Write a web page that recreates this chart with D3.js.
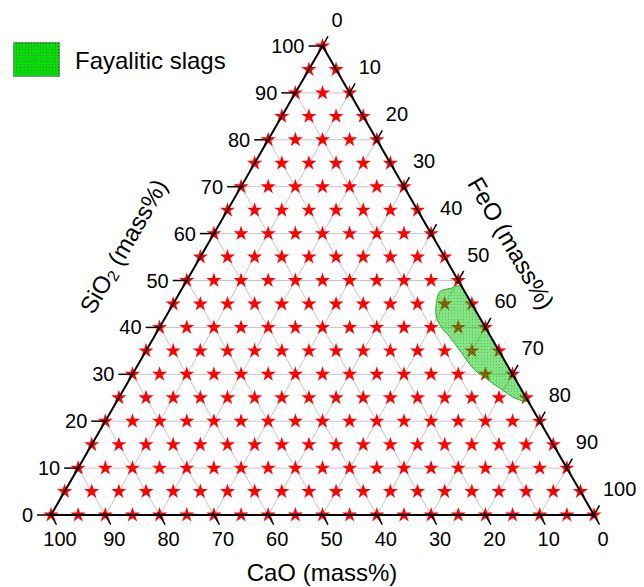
<!DOCTYPE html>
<html>
<head>
<meta charset="utf-8">
<script src="https://cdn.jsdelivr.net/npm/d3@7"></script>
<style>
  body { margin: 0; background: #fff; }
  svg { display: block; font-family: "Liberation Sans", Arial, sans-serif; }
</style>
</head>
<body>
<svg id="chart" width="644" height="587"></svg>
<script>
// tick labels on each of the three axes (mass%)
const tickValues = [0, 10, 20, 30, 40, 50, 60, 70, 80, 90, 100];
// compositions are marked every 5 mass%
const starLevels = [0, 5, 10, 15, 20, 25, 30, 35, 40, 45, 50, 55, 60, 65, 70, 75, 80, 85, 90, 95, 100];
// outline of the fayalitic slag field, [SiO2, CaO, FeO]
const slagField = [
    [48.8, 0.0, 51.2], [48.3, 2.4, 49.3], [47.6, 4.6, 47.8], [45.1, 6.5, 48.4],
    [42.3, 7.9, 49.8], [40.1, 8.1, 51.8], [38.0, 7.6, 54.4], [34.5, 7.1, 58.4],
    [30.9, 6.5, 62.6], [28.8, 5.1, 66.1], [26.7, 3.6, 69.7], [24.9, 2.1, 73.0],
    [24.2, 0.4, 75.4], [24.3, 0.0, 75.7], [30.0, 0.0, 70.0], [36.0, 0.0, 64.0],
    [42.0, 0.0, 58.0]
];
const legendLabel = "Fayalitic slags";

var svg = d3.select("#chart");

// x runs along the base (FeO + SiO2/2), y follows SiO2
var x = d3.scaleLinear().domain([0, 100]).range([51, 594]);
var y = d3.scaleLinear().domain([0, 100]).range([515, 46]);
function pt(s, c, f) {
    return [x(f + s / 2), y(s)];
}
var corners = [pt(100, 0, 0), pt(0, 100, 0), pt(0, 0, 100)];

var defs = svg.append("defs");
function dots(id, bg, fg) {
    var p = defs.append("pattern")
        .attr("id", id).attr("patternUnits", "userSpaceOnUse")
        .attr("width", 3).attr("height", 3);
    p.append("rect").attr("width", 3).attr("height", 3).attr("fill", bg);
    p.append("rect").attr("x", 1).attr("y", 1).attr("width", 1).attr("height", 1).attr("fill", fg);
}
dots("dotsLegend", "#00e000", "#006800");
dots("dotsField", "#00d000", "#005000");
defs.append("clipPath").attr("id", "tri")
    .append("path").attr("d", d3.line()(corners) + "Z");

// grid
var grid = svg.append("g").attr("stroke", "#c4c4c4").attr("stroke-width", 1);
tickValues.slice(1, -1).forEach(function(v) {
    var lines = [
        [pt(v, 100 - v, 0), pt(v, 0, 100 - v)],
        [pt(100 - v, v, 0), pt(0, v, 100 - v)],
        [pt(100 - v, 0, v), pt(0, 100 - v, v)]
    ];
    lines.forEach(function(l) {
        grid.append("line")
            .attr("x1", l[0][0]).attr("y1", l[0][1])
            .attr("x2", l[1][0]).attr("y2", l[1][1]);
    });
});

// stars
var stars = [];
starLevels.forEach(function(s) {
    starLevels.forEach(function(f) {
        if (s + f <= 100) stars.push([s, 100 - s - f, f]);
    });
});
svg.append("g").selectAll("path")
    .data(stars)
    .enter().append("path")
    .attr("transform", function(d) { var p = pt(d[0], d[1], d[2]); return "translate(" + p[0] + "," + p[1] + ")"; })
    .attr("d", d3.symbol().type(d3.symbolStar).size(72))
    .attr("fill", "#ff0000");

// slag field
var line = d3.line()
    .x(function(d) { return pt(d[0], d[1], d[2])[0]; })
    .y(function(d) { return pt(d[0], d[1], d[2])[1]; })
    .curve(d3.curveCatmullRomClosed.alpha(0.5));
svg.append("path")
    .attr("clip-path", "url(#tri)")
    .attr("d", line(slagField))
    .attr("fill", "url(#dotsField)")
    .attr("fill-opacity", 0.5)
    .attr("stroke", "#33aa33")
    .attr("stroke-width", 1);

// triangle frame
var frame = svg.append("g").attr("stroke", "#000").attr("stroke-width", 2).attr("fill", "none");
frame.append("path").attr("d", d3.line()(corners) + "Z");

var lab = svg.append("g").attr("font-size", 20).attr("fill", "#000");
var d60 = [0.5, Math.sqrt(3) / 2];
tickValues.forEach(function(v) {
    // SiO2, left edge
    var p = pt(v, 100 - v, 0);
    frame.append("line").attr("stroke-width", 1.5)
        .attr("x1", p[0] - 14).attr("y1", p[1]).attr("x2", p[0] + 2).attr("y2", p[1]);
    lab.append("text").attr("x", p[0] - 18).attr("y", p[1])
        .attr("text-anchor", "end").attr("dominant-baseline", "central").text(v);
    // FeO, right edge
    p = pt(100 - v, 0, v);
    frame.append("line").attr("stroke-width", 1.5)
        .attr("x1", p[0] - 3 * d60[0]).attr("y1", p[1] + 3 * d60[1])
        .attr("x2", p[0] + 11 * d60[0]).attr("y2", p[1] - 11 * d60[1]);
    lab.append("text").attr("x", p[0] + 9).attr("y", p[1] - 26)
        .attr("dominant-baseline", "central").text(v);
    // CaO, bottom edge
    p = pt(0, v, 100 - v);
    frame.append("line").attr("stroke-width", 1.5)
        .attr("x1", p[0] - 3 * d60[0]).attr("y1", p[1] - 3 * d60[1])
        .attr("x2", p[0] + 11 * d60[0]).attr("y2", p[1] + 11 * d60[1]);
    lab.append("text").attr("x", p[0] + 9).attr("y", p[1] + 24)
        .attr("text-anchor", "middle").attr("dominant-baseline", "central").text(v);
});

// axis titles
var t = svg.append("text").attr("font-size", 24).attr("text-anchor", "middle")
    .attr("dominant-baseline", "central")
    .attr("transform", "translate(123,246) rotate(-60)");
t.append("tspan").text("SiO");
t.append("tspan").attr("font-size", 16).attr("dy", 6).text("2");
t.append("tspan").attr("dy", -6).text(" (mass%)");

svg.append("text").attr("font-size", 24).attr("text-anchor", "middle")
    .attr("dominant-baseline", "central")
    .attr("transform", "translate(511,243) rotate(60)")
    .text("FeO (mass%)");

svg.append("text").attr("font-size", 24).attr("text-anchor", "middle")
    .attr("dominant-baseline", "central")
    .attr("x", 322).attr("y", 572)
    .text("CaO (mass%)");

// legend
svg.append("rect").attr("x", 13.5).attr("y", 42.5).attr("width", 46).attr("height", 34)
    .attr("fill", "url(#dotsLegend)").attr("stroke", "#888").attr("stroke-width", 1);
svg.append("text").attr("x", 75).attr("y", 60).attr("font-size", 24)
    .attr("dominant-baseline", "central").text(legendLabel);
</script>
</body>
</html>
